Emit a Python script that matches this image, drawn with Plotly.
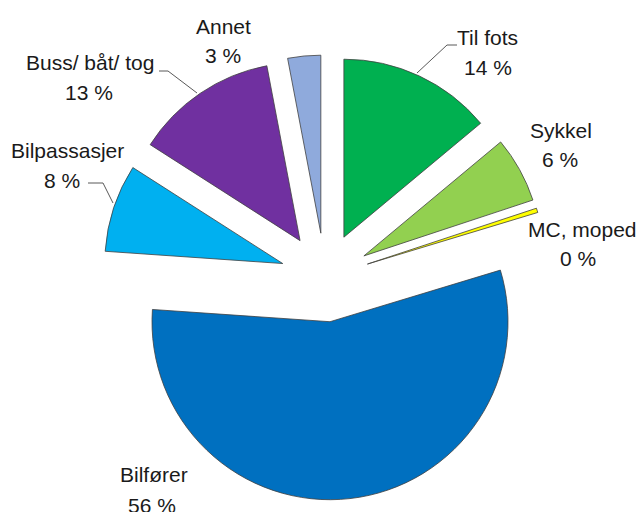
import plotly.graph_objects as go

# ---- data ----
labels = ["Til fots", "Sykkel", "MC, moped", "Bilfører", "Bilpassasjer", "Buss/ båt/ tog", "Annet"]
values = [14, 6, 0.4, 56, 8, 13, 3]
colors = ["#00B050", "#92D050", "#FFFF00", "#0070C0", "#00B0F0", "#7030A0", "#8FAADC"]

W, H = 640, 512

# label placement (pixel centres of the two text lines)
label_pos = {
    "Til fots": ((487, 37), (488, 67)),
    "Sykkel": ((561, 130), (560, 159)),
    "MC, moped": ((582, 229), (578, 258)),
    "Bilfører": ((154, 474), (152, 505)),
    "Bilpassasjer": ((67, 150), (62, 180)),
    "Buss/ båt/ tog": ((90, 62), (89, 92)),
    "Annet": ((223, 26), (223, 55)),
}
leader_lines = [
    [(417, 73), (447, 45), (457, 45)],
    [(159, 71), (168, 71), (197, 93)],
    [(88, 183), (103, 183), (113, 203)],
]

def px(x, y):
    return x / W, 1 - y / H

fig = go.Figure(go.Pie(
    labels=labels,
    values=values,
    sort=False,
    direction="clockwise",
    rotation=0,
    pull=[0.25] * len(values),
    marker=dict(colors=colors, line=dict(color="#404040", width=0.8)),
    textinfo="none",
    hoverinfo="label+percent",
    showlegend=False,
    domain=dict(x=[(325 - 222.5) / W, (325 + 222.5) / W],
                y=[1 - 500 / H, 1 - 55 / H]),
))

font = dict(family="Liberation Sans, Arial, sans-serif", size=21, color="#1a1a1a")
annotations = []
for lab, v in zip(labels, values):
    (x1, y1), (x2, y2) = label_pos[lab]
    for (x, y), txt in (((x1, y1), lab), ((x2, y2), f"{int(round(v))} %")):
        ax, ay = px(x, y)
        annotations.append(dict(x=ax, y=ay, xref="paper", yref="paper", text=txt,
                                showarrow=False, xanchor="center", yanchor="middle",
                                font=font))

shapes = []
for pts in leader_lines:
    path = "M " + " L ".join(f"{px(x, y)[0]},{px(x, y)[1]}" for x, y in pts)
    shapes.append(dict(type="path", path=path, xref="paper", yref="paper",
                       line=dict(color="#595959", width=1)))

fig.update_layout(
    width=W, height=H,
    margin=dict(l=0, r=0, t=0, b=0),
    paper_bgcolor="white",
    plot_bgcolor="white",
    annotations=annotations,
    shapes=shapes,
)

fig.write_html("out.html",
               config={"displayModeBar": False},
               post_script="document.body.style.margin='0px';document.body.style.overflow='hidden';")
